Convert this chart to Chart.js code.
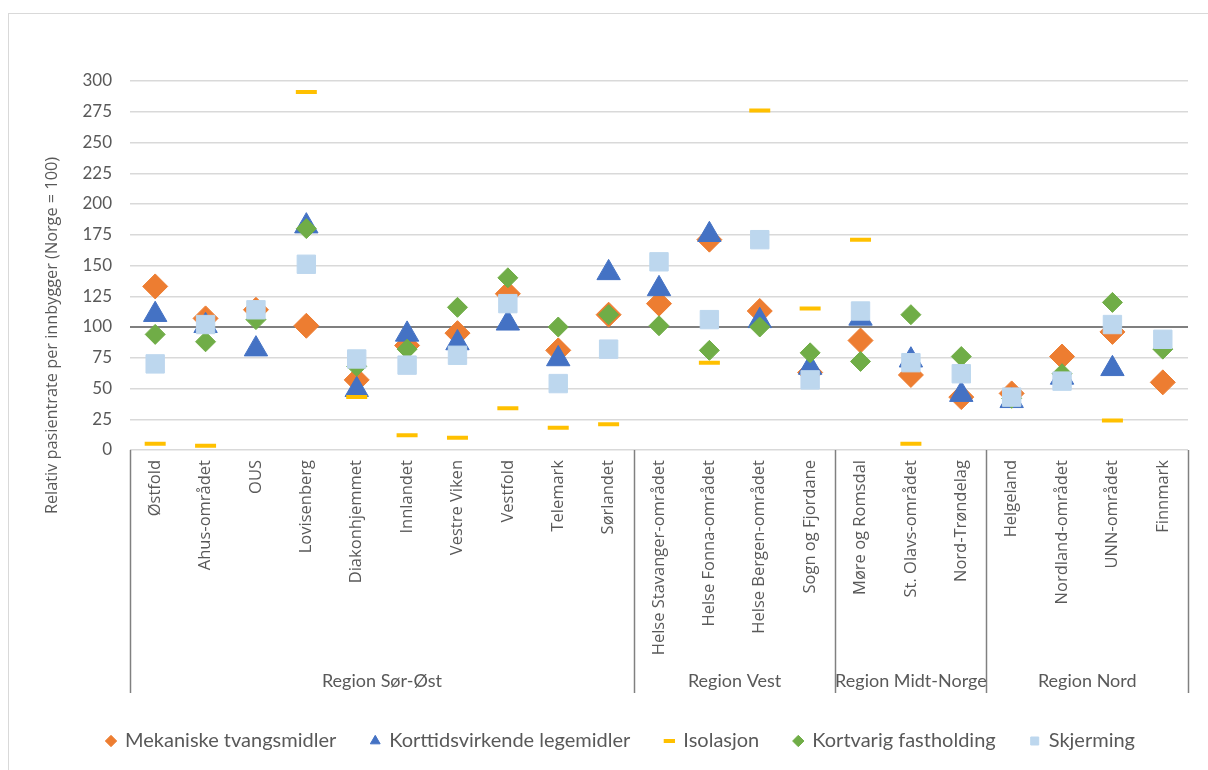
<!DOCTYPE html>
<html lang="no">
<head>
<meta charset="utf-8">
<title>Relativ pasientrate per innbygger</title>
<script src="https://cdn.jsdelivr.net/npm/chart.js@4.4.1/dist/chart.umd.min.js"></script>
<style>
  html, body { margin: 0; padding: 0; background: #fff; overflow: hidden; }
  #ramme { position: absolute; left: 8px; top: 13px; width: 1230px; height: 790px; border: 1.5px solid #d9d9d9; }
  #wrap { position: absolute; left: 0; top: 0; width: 1208px; height: 770px; }
</style>
</head>
<body>
<div id="ramme"></div>
<div id="wrap"><canvas id="graf"></canvas></div>
<script>
// Helseforetak / områder, gruppert per region
var omrader = ["Østfold", "Ahus-området", "OUS", "Lovisenberg", "Diakonhjemmet",
  "Innlandet", "Vestre Viken", "Vestfold", "Telemark", "Sørlandet",
  "Helse Stavanger-området", "Helse Fonna-området", "Helse Bergen-området", "Sogn og Fjordane",
  "Møre og Romsdal", "St. Olavs-området", "Nord-Trøndelag",
  "Helgeland", "Nordland-området", "UNN-området", "Finnmark"];
var regioner = ["Region Sør-Øst", "Region Vest", "Region Midt-Norge", "Region Nord"];
var antallPerRegion = [10, 4, 3, 4];

// Relativ pasientrate (Norge = 100)
var mekaniske = [133, 107, 114, 101, 57, 85, 95, 127, 81, 110, 119, 171, 113, 63, 89, 61, 43, 46, 76, 96, 55];
var korttids = [110, 101, 82, 182, 49, 94, 87, 103, 74, 144, 131, 175, 105, 67, 107, 73, 45, 40, 59, 66, null];
var isolasjon = [5, 3.5, null, 291, 43, 12, 10, 34, 18, 21, null, 71, 276, 115, 171, 5, null, null, null, 24, null];
var fastholding = [94, 88, 106, 180, 68, 82, 116, 140, 100, 110, 101, 81, 100, 79, 72, 110, 76, 42, 62, 120, 82];
var skjerming = [70, 102, 114, 151, 74, 69, 77, 119, 54, 82, 153, 106, 171, 57, 113, 71, 62, 43, 56, 102, 90];

var tekstFarge = "#595959";
var ytittel = "Relativ pasientrate per innbygger (Norge = 100)";

// Skillelinjer og regionnavn under kategoriaksen
const regionPlugin = {
  id: "regionPlugin",
  afterDraw(chart) {
    const ctx = chart.ctx;
    const x = chart.scales.x;
    const area = chart.chartArea;
    const halv = (x.getPixelForValue(1) - x.getPixelForValue(0)) / 2;
    const kanter = [0];
    antallPerRegion.forEach(n => kanter.push(kanter[kanter.length - 1] + n));

    ctx.save();
    ctx.strokeStyle = "#808080";
    ctx.lineWidth = 1.5;
    kanter.forEach(i => {
      const px = Math.round(x.getPixelForValue(i) - halv) + 0.5;
      ctx.beginPath();
      ctx.moveTo(px, area.bottom);
      ctx.lineTo(px, area.bottom + 243);
      ctx.stroke();
    });

    ctx.fillStyle = tekstFarge;
    ctx.font = "18px Lato";
    ctx.textAlign = "center";
    ctx.textBaseline = "middle";
    regioner.forEach((navn, k) => {
      const midt = (x.getPixelForValue(kanter[k]) + x.getPixelForValue(kanter[k + 1] - 1)) / 2;
      ctx.fillText(navn, midt, area.bottom + 231);
    });

    // Aksetittel for y-aksen
    ctx.translate(52, (area.top + area.bottom) / 2 + 70);
    ctx.rotate(-Math.PI / 2);
    ctx.font = "16.3px 'Open Sans'";
    ctx.fillText(ytittel, 0, 0);
    ctx.restore();
  }
};

function serie(navn, data, stil, radius, farge, kant, rekkefolge) {
  return {
    label: navn,
    data: data,
    showLine: false,
    pointStyle: stil,
    pointRadius: radius,
    pointBackgroundColor: farge,
    pointBorderColor: farge,
    pointBorderWidth: kant,
    backgroundColor: farge,
    borderColor: farge,
    order: rekkefolge
  };
}

const grafikk = new Chart(document.getElementById("graf"), {
  type: "line",
  data: {
    labels: omrader,
    datasets: [
      serie("Mekaniske tvangsmidler", mekaniske, "rectRot", 12.5, "#ED7D31", 1, 5),
      serie("Korttidsvirkende legemidler", korttids, "triangle", 13.5, "#4472C4", 1, 4),
      serie("Isolasjon", isolasjon, "line", 10.5, "#FFC000", 4, 3),
      serie("Kortvarig fastholding", fastholding, "rectRot", 10, "#70AD47", 1, 2),
      serie("Skjerming", skjerming, "rect", 13, "#BDD7EE", 1, 1)
    ]
  },
  options: {
    responsive: true,
    maintainAspectRatio: false,
    animation: false,
    events: [],
    layout: { padding: { top: 81, right: 20, bottom: 9, left: 54 } },
    plugins: {
      legend: {
        position: "bottom",
        reverse: true,
        labels: {
          usePointStyle: true,
          boxWidth: 8,
          boxHeight: 8,
          padding: 35,
          color: tekstFarge,
          font: { family: "Lato", size: 20 }
        }
      },
      tooltip: { enabled: false }
    },
    scales: {
      x: {
        offset: true,
        grid: { display: false, drawTicks: false },
        border: { display: false },
        ticks: {
          autoSkip: false,
          minRotation: 90,
          maxRotation: 90,
          padding: 10,
          color: tekstFarge,
          font: { family: "Open Sans", size: 16.5 }
        },
        afterFit: function (skala) { skala.height = 246; }
      },
      y: {
        min: 0,
        max: 300,
        ticks: {
          stepSize: 25,
          padding: 18,
          color: tekstFarge,
          font: { family: "Lato", size: 17 }
        },
        grid: {
          drawTicks: false,
          color: c => c.tick.value === 100 ? "#7f7f7f" : "#d9d9d9",
          lineWidth: c => c.tick.value === 100 ? 2 : 1.5
        },
        border: { display: false },
        afterFit: function (skala) { skala.width = 76; }
      }
    }
  },
  plugins: [regionPlugin]
});
</script>
</body>
</html>
